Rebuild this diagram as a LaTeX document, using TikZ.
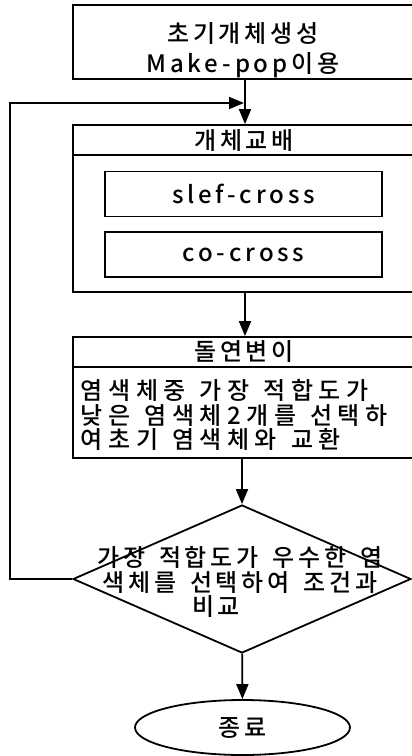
\documentclass[tikz,border=0pt]{standalone}
\usepackage{fontspec}
\setmainfont{Noto Sans CJK KR}[UprightFont=* Medium, LetterSpace=16]
\usetikzlibrary{arrows.meta,shapes.geometric}
\newcommand\mywidespace{\spaceskip=14pt plus 0pt minus 0pt\relax}
\begin{document}
\begin{tikzpicture}[x=1pt,y=-1pt,line width=1.8pt,
  txt/.style={font={\fontsize{24pt}{24.5pt}\selectfont}, inner sep=0pt},
  box/.style={draw, minimum width=344pt, inner sep=0pt},
  inbox/.style={draw, txt, minimum width=277pt, minimum height=45pt},
  arr/.style={-{Triangle[length=15pt,width=12pt]}}]
\useasboundingbox (0,0) rectangle (412,756);
\clip (0,0) rectangle (412,756);
% initial
\node[box, minimum height=74pt] (init) at (245,42) {};
\node[txt, align=center, font={\fontsize{24pt}{30pt}\selectfont}] (initT) at (243,50) {초기개체생성\\Make-pop이용};
% crossover
\node[box, minimum height=167pt] (cross) at (245,208.5) {};
\draw (73,155) -- (417,155);
\node[txt] (crossH) at (244,140) {개체교배};
\node[inbox] (slef) at (243.5,194) {slef-cross};
\node[inbox] (co) at (243.5,254.5) {co-cross};
% mutation
\node[box, minimum height=121pt] (mut) at (245,397.5) {};
\draw (73,367) -- (417,367);
\node[txt] (mutH) at (244,352) {돌연변이};
\node[txt, anchor=west, align=left, font={\fontsize{24pt}{24.5pt}\selectfont\addfontfeature{LetterSpace=23}}] (mutB) at (80,415) {\mywidespace 염색체중 가장 적합도가\\\mywidespace 낮은 염색체2개를 선택하\\\mywidespace 여초기 염색체와 교환};
% decision
\node[diamond, draw, minimum width=338pt, minimum height=148pt, inner sep=0pt] (dec) at (242,579) {};
\node[txt, align=center] (decT) at (240,582) {\mywidespace 가장 적합도가 우수한 염\\\mywidespace 색체를 선택하여 조건과\\비교\hspace*{48pt}};
% end
\node[ellipse, draw, minimum width=215pt, minimum height=55pt, txt] (end) at (242.5,727.5) {종료};
% connectors
\coordinate (j) at (245,103);
\coordinate (lc) at (10,103);
\draw[arr] (init) -- (cross);
\draw[arr] (cross) -- (mut);
\draw[arr] (mut.south -| dec.north) -- (dec.north);
\draw[arr] (dec) -- (end);
\draw[arr, shorten >=1pt] (dec.west) -| (lc) -- (j);
\end{tikzpicture}
\end{document}
